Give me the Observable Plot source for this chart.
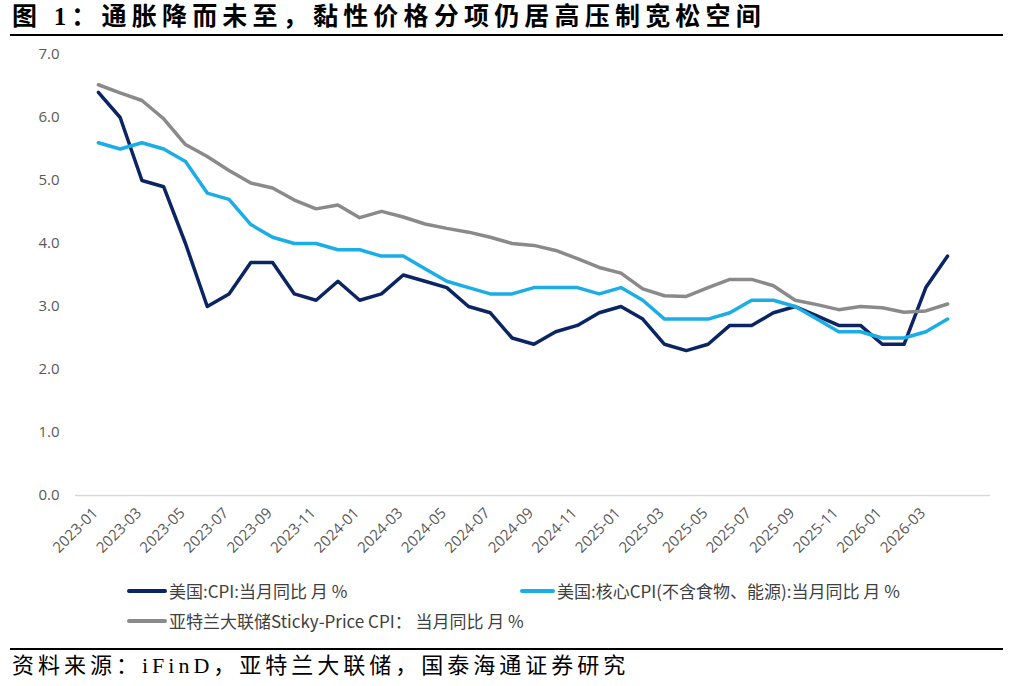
<!DOCTYPE html>
<html>
<head>
<meta charset="utf-8">
<script src="https://cdn.jsdelivr.net/npm/d3@7"></script>
<script src="https://cdn.jsdelivr.net/npm/@observablehq/plot@0.6"></script>
<style>
  html, body { margin: 0; padding: 0; background: #fff; }
  #page { position: relative; width: 1010px; height: 686px; overflow: hidden; font-family: "Noto Sans CJK SC", sans-serif; }
  #title { position: absolute; left: 12px; top: 2px; font-family: "Liberation Serif", "Noto Sans CJK SC", serif; font-weight: 700; font-size: 25px; letter-spacing: 5.2px; color: #000; white-space: nowrap; line-height: 30px; }
  .hr { position: absolute; left: 10px; width: 993px; height: 2px; background: #000; }
  #chart { position: absolute; left: 0; top: 40px; }
  .leg { position: absolute; display: flex; align-items: center; font-size: 17px; color: #404040; white-space: nowrap; line-height: 20px; }
  .sw { display: inline-block; height: 4px; border-radius: 2px; margin-right: 2px; }
  #source { position: absolute; left: 12px; top: 652px; font-family: "Liberation Serif", "Noto Sans CJK SC", serif; font-size: 22px; letter-spacing: 4px; color: #000; white-space: nowrap; line-height: 28px; }
</style>
</head>
<body>
<div id="page">
  <div id="title"></div>
  <div class="hr" style="top:34px"></div>
  <div id="chart"></div>
  <div id="legend"></div>
  <div class="hr" style="top:648px; height:1.5px"></div>
  <div id="source"></div>
</div>
<script>
const titleText = "图 1：通胀降而未至，黏性价格分项仍居高压制宽松空间";
const sourceText = "资料来源：iFinD，亚特兰大联储，国泰海通证券研究";

const months = [
  "2023-01","2023-02","2023-03","2023-04","2023-05","2023-06","2023-07","2023-08","2023-09","2023-10","2023-11","2023-12",
  "2024-01","2024-02","2024-03","2024-04","2024-05","2024-06","2024-07","2024-08","2024-09","2024-10","2024-11","2024-12",
  "2025-01","2025-02","2025-03","2025-04","2025-05","2025-06","2025-07","2025-08","2025-09","2025-10","2025-11","2025-12",
  "2026-01","2026-02","2026-03","2026-04"
];
const tickLabels = [
  "2023-01","2023-03","2023-05","2023-07","2023-09","2023-11",
  "2024-01","2024-03","2024-05","2024-07","2024-09","2024-11",
  "2025-01","2025-03","2025-05","2025-07","2025-09","2025-11",
  "2026-01","2026-03"
];
const yTicks = [0, 1, 2, 3, 4, 5, 6, 7];

const cpi = [
  6.4, 6.0, 5.0, 4.9, 4.0, 3.0, 3.2, 3.7, 3.7, 3.2, 3.1, 3.4,
  3.1, 3.2, 3.5, 3.4, 3.3, 3.0, 2.9, 2.5, 2.4, 2.6, 2.7, 2.9,
  3.0, 2.8, 2.4, 2.3, 2.4, 2.7, 2.7, 2.9, 3.0, 2.85, 2.7, 2.7,
  2.4, 2.4, 3.3, 3.8
];
const coreCpi = [
  5.6, 5.5, 5.6, 5.5, 5.3, 4.8, 4.7, 4.3, 4.1, 4.0, 4.0, 3.9,
  3.9, 3.8, 3.8, 3.6, 3.4, 3.3, 3.2, 3.2, 3.3, 3.3, 3.3, 3.2,
  3.3, 3.1, 2.8, 2.8, 2.8, 2.9, 3.1, 3.1, 3.0, 2.8, 2.6, 2.6,
  2.5, 2.5, 2.6, 2.8
];
const stickyCpi = [
  6.52, 6.39, 6.27, 5.98, 5.57, 5.38, 5.16, 4.96, 4.88, 4.69, 4.55, 4.61,
  4.41, 4.51, 4.42, 4.31, 4.24, 4.18, 4.10, 4.00, 3.97, 3.89, 3.76, 3.62,
  3.53, 3.28, 3.17, 3.16, 3.30, 3.43, 3.43, 3.33, 3.10, 3.03, 2.95, 3.00,
  2.98, 2.91, 2.93, 3.04
];

const seriesNames = [
  "美国:CPI:当月同比 月 %",
  "美国:核心CPI(不含食物、能源):当月同比 月 %",
  "亚特兰大联储Sticky-Price CPI： 当月同比 月 %"
];
const seriesColors = ["#0b2563", "#1aade6", "#8a8a8a"];
const seriesValues = [cpi, coreCpi, stickyCpi];

document.getElementById("title").textContent = titleText;
document.getElementById("source").textContent = sourceText;

const tables = seriesValues.map(vals => months.map((m, i) => ({month: m, value: vals[i]})));

const chart = Plot.plot({
  width: 1010,
  height: 530,
  marginTop: 14,
  marginBottom: 75,
  marginLeft: 75,
  marginRight: 20,
  style: {fontFamily: "'Open Sans', 'Noto Sans', sans-serif", color: "#595959", background: "transparent"},
  x: {type: "point", domain: months, range: [87, 958], label: null},
  y: {domain: [0, 7], label: null},
  marks: [
    Plot.ruleY([0], {stroke: "#d9d9d9", strokeWidth: 1.5}),
    Plot.axisY({ticks: yTicks, tickFormat: d => d.toFixed(1), tickSize: 0, tickPadding: 16, fontSize: 15, label: null}),
    Plot.axisX({ticks: tickLabels, tickSize: 0, tickRotate: -45, tickPadding: 15, dx: -3, fontSize: 15, label: null}),
    ...tables.map((t, k) => Plot.line(t, {x: "month", y: "value", stroke: seriesColors[k], strokeWidth: 3.5, strokeLinejoin: "round", strokeLinecap: "round"}))
  ]
});
document.getElementById("chart").appendChild(chart);

const legendPos = [
  {left: 127, top: 581, sw: 40},
  {left: 520, top: 581, sw: 35},
  {left: 127, top: 611, sw: 40}
];
const legend = document.getElementById("legend");
seriesNames.forEach((name, k) => {
  const item = document.createElement("div");
  item.className = "leg";
  item.style.left = legendPos[k].left + "px";
  item.style.top = legendPos[k].top + "px";
  const sw = document.createElement("span");
  sw.className = "sw";
  sw.style.width = legendPos[k].sw + "px";
  sw.style.background = seriesColors[k];
  const label = document.createElement("span");
  label.textContent = name;
  item.appendChild(sw);
  item.appendChild(label);
  legend.appendChild(item);
});
</script>
</body>
</html>
